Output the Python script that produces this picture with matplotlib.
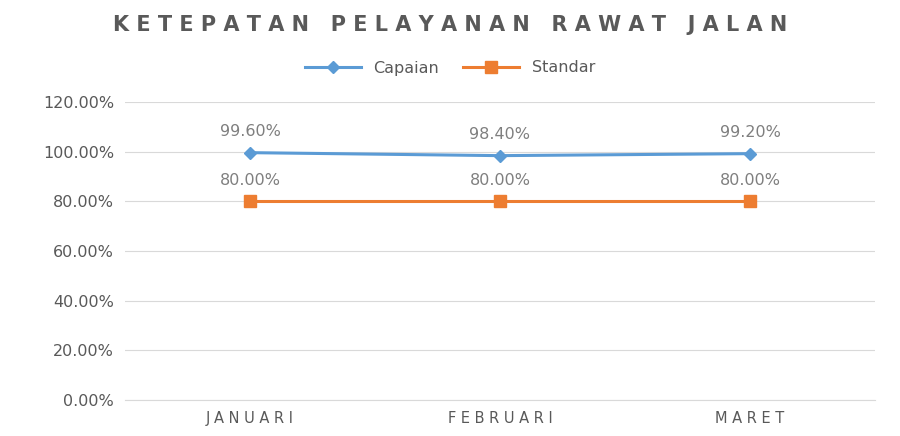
import matplotlib
matplotlib.use("Agg")
import matplotlib.pyplot as plt

categories = ["JANUARI", "FEBRUARI", "MARET"]
capaian = [99.6, 98.4, 99.2]
standar = [80.0, 80.0, 80.0]
yticks = [0, 20, 40, 60, 80, 100, 120]

fig = plt.figure(figsize=(9, 4.36), dpi=100)
ax = fig.add_axes([125/900, 1-400/436, 750/900, 298/436])
x = list(range(len(categories)))
ax.plot(x, capaian, color="#5B9BD5", lw=2.2, marker="D", ms=6, label="Capaian")
ax.plot(x, standar, color="#ED7D31", lw=2.2, marker="s", ms=9, label="Standar")
for i in x:
    ax.text(i, capaian[i]+5.5, f"{capaian[i]:.2f}%", ha="center", va="bottom", color="#7F7F7F", fontsize=11.5)
    ax.text(i, standar[i]+5.5, f"{standar[i]:.2f}%", ha="center", va="bottom", color="#7F7F7F", fontsize=11.5)
ax.set_xlim(-0.5, 2.5)
ax.set_ylim(0, 120)
ax.set_yticks(yticks)
ax.set_yticklabels([f"{v:.2f}%" for v in yticks], color="#595959", fontsize=11.5)
ax.set_xticks(x)
ax.set_xticklabels(["  ".join(c) if False else " ".join(c) for c in categories], color="#595959", fontsize=10.5)
ax.grid(axis="y", color="#D9D9D9", lw=0.8)
ax.set_axisbelow(True)
for s in ["top", "right", "left"]:
    ax.spines[s].set_visible(False)
ax.spines["bottom"].set_color("#D9D9D9")
ax.tick_params(length=0, pad=8)
fig.text(0.5, 1-25/436, "K E T E P A T A N   P E L A Y A N A N   R A W A T   J A L A N", ha="center", va="center",
         fontsize=15, fontweight="bold", color="#595959")
fig.legend(loc="center", bbox_to_anchor=(0.5, 1-68/436), ncol=2, frameon=False, fontsize=11.5,
           labelcolor="#595959", handlelength=3.5, columnspacing=1.5)
fig.savefig("out.png", dpi=100)
